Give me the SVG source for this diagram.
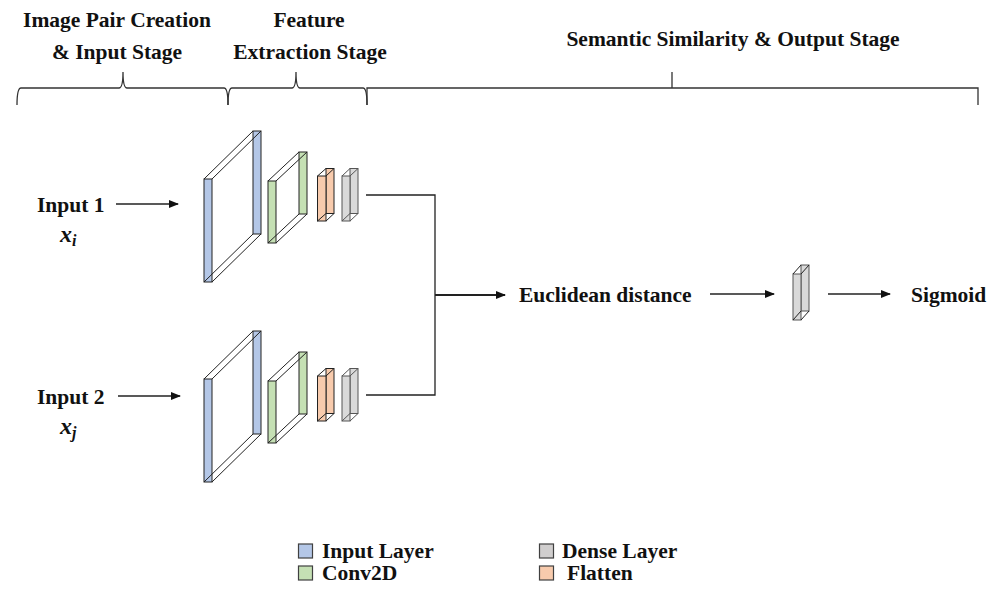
<svg xmlns="http://www.w3.org/2000/svg" width="999" height="593" viewBox="0 0 999 593">
  <defs>
    <style>
      .t { font-family: "Liberation Serif", "Times New Roman", serif; font-weight: bold; font-size: 21.5px; fill: #111; }
      .m { font-family: "Liberation Serif", "Times New Roman", serif; font-weight: bold; font-style: italic; fill: #111; }
      .brace { fill: none; stroke: #333; stroke-width: 1.3; }
      .edge { fill: none; stroke: #222; stroke-width: 1.3; }
      .edge2 { fill: none; stroke: #222; stroke-width: 2; }
      .wire { fill: none; stroke: #222; stroke-width: 1; }
      .wireg { fill: none; stroke: #555; stroke-width: 1; }
      .blue { fill: #b4c7e7; stroke: #222; stroke-width: 1; }
      .green { fill: #c5e0b4; stroke: #222; stroke-width: 1; }
      .orange { fill: #f8cbad; stroke: #222; stroke-width: 1; }
      .gray { fill: #d9d9d9; stroke: #555; stroke-width: 1; }
      .key { stroke: #404040; stroke-width: 1.2; }
    </style>
    <marker id="arr" markerUnits="userSpaceOnUse" markerWidth="10" markerHeight="8" refX="9" refY="4" orient="auto">
      <path d="M0,0 L10,4 L0,8 z" fill="#111"/>
    </marker>
    <!-- layer slabs: back face, front face, then the four depth edges -->
    <g id="slab-input">
      <rect class="blue" x="253" y="131" width="8" height="103"/>
      <rect class="blue" x="204" y="179" width="8" height="103"/>
      <path class="wire" d="M204,179 L253,131 M212,179 L261,131 M204,282 L253,234 M212,282 L261,234"/>
    </g>
    <g id="slab-conv">
      <rect class="green" x="299" y="152" width="8" height="62"/>
      <rect class="green" x="268" y="181" width="8" height="62"/>
      <path class="wire" d="M268,181 L299,152 M276,181 L307,152 M268,243 L299,214 M276,243 L307,214"/>
    </g>
    <g id="slab-flat">
      <rect class="orange" x="326" y="168.5" width="8" height="45"/>
      <rect class="orange" x="317.5" y="176" width="8.5" height="45"/>
      <path class="wire" d="M317.5,176 L326,168.5 M326,176 L334,168.5 M317.5,221 L326,213.5 M326,221 L334,213.5"/>
    </g>
    <g id="slab-dense">
      <rect class="gray" x="350" y="168.5" width="8" height="45"/>
      <rect class="gray" x="342" y="176" width="8" height="45"/>
      <path class="wireg" d="M342,176 L350,168.5 M350,176 L358,168.5 M342,221 L350,213.5 M350,221 L358,213.5"/>
    </g>
  </defs>

  <!-- stage braces and titles -->
  <g id="stage-input">
    <path class="brace" d="M17,105 Q17,88 21,88 L119,88 Q123,88 123,72 Q123,88 127,88 L224,88 Q228,88 228,105"/>
    <text class="t" x="117" y="27" text-anchor="middle">Image Pair Creation</text>
    <text class="t" x="117" y="59" text-anchor="middle">&amp; Input Stage</text>
  </g>
  <g id="stage-features">
    <path class="brace" d="M228,105 Q228,88 232,88 L292,88 Q296,88 296,72 Q296,88 300,88 L363,88 Q367,88 367,105"/>
    <text class="t" x="309" y="27" text-anchor="middle">Feature</text>
    <text class="t" x="310" y="59" text-anchor="middle">Extraction Stage</text>
  </g>
  <g id="stage-output">
    <path class="brace" d="M367,105 L367,88 L978,88 L978,105 M672,72 L672,88"/>
    <text class="t" x="733" y="46" text-anchor="middle">Semantic Similarity &amp; Output Stage</text>
  </g>

  <!-- inputs -->
  <g id="input1">
    <text class="t" x="37" y="212">Input 1</text>
    <text class="m" x="60" y="242" font-size="24">x<tspan font-size="16" dy="4">i</tspan></text>
  </g>
  <g id="input2">
    <text class="t" x="37" y="404">Input 2</text>
    <text class="m" x="60" y="434" font-size="24">x<tspan font-size="16" dy="4">j</tspan></text>
  </g>

  <!-- twin branches -->
  <g id="branch1">
    <use href="#slab-input"/>
    <use href="#slab-conv"/>
    <use href="#slab-flat"/>
    <use href="#slab-dense"/>
  </g>
  <g id="branch2" transform="translate(0,200)">
    <use href="#slab-input"/>
    <use href="#slab-conv"/>
    <use href="#slab-flat"/>
    <use href="#slab-dense"/>
  </g>

  <g id="distance">
    <text class="t" x="519" y="302">Euclidean distance</text>
  </g>

  <g id="output-dense">
    <rect class="gray" x="801" y="265" width="8" height="46"/>
    <rect class="gray" x="793" y="274" width="8" height="46"/>
    <path class="wire" d="M793,274 L801,265 M801,274 L809,265 M793,320 L801,311 M801,320 L809,311"/>
  </g>

  <g id="sigmoid">
    <text class="t" x="911" y="302">Sigmoid</text>
  </g>

  <!-- connectors -->
  <g id="connectors">
    <line class="edge" x1="116" y1="204" x2="178" y2="204" marker-end="url(#arr)"/>
    <line class="edge" x1="118" y1="396" x2="180" y2="396" marker-end="url(#arr)"/>
    <path class="edge" d="M366,195 L435,195 L435,395 L366,395"/>
    <line class="edge2" x1="435" y1="295" x2="505" y2="295" marker-end="url(#arr)"/>
    <line class="edge" x1="710" y1="294" x2="774" y2="294" marker-end="url(#arr)"/>
    <line class="edge" x1="828" y1="294" x2="890" y2="294" marker-end="url(#arr)"/>
  </g>

  <!-- legend -->
  <g id="legend">
    <rect class="key" x="298.5" y="544" width="14" height="14" fill="#b4c7e7"/>
    <text class="t" x="322" y="558">Input Layer</text>
    <rect class="key" x="298.5" y="566" width="14" height="14" fill="#c5e0b4"/>
    <text class="t" x="322" y="580">Conv2D</text>
    <rect class="key" x="539.5" y="544" width="14" height="14" fill="#d0cece"/>
    <text class="t" x="562" y="558">Dense Layer</text>
    <rect class="key" x="539.5" y="566" width="14" height="14" fill="#f8cbad"/>
    <text class="t" x="567" y="580">Flatten</text>
  </g>
</svg>
